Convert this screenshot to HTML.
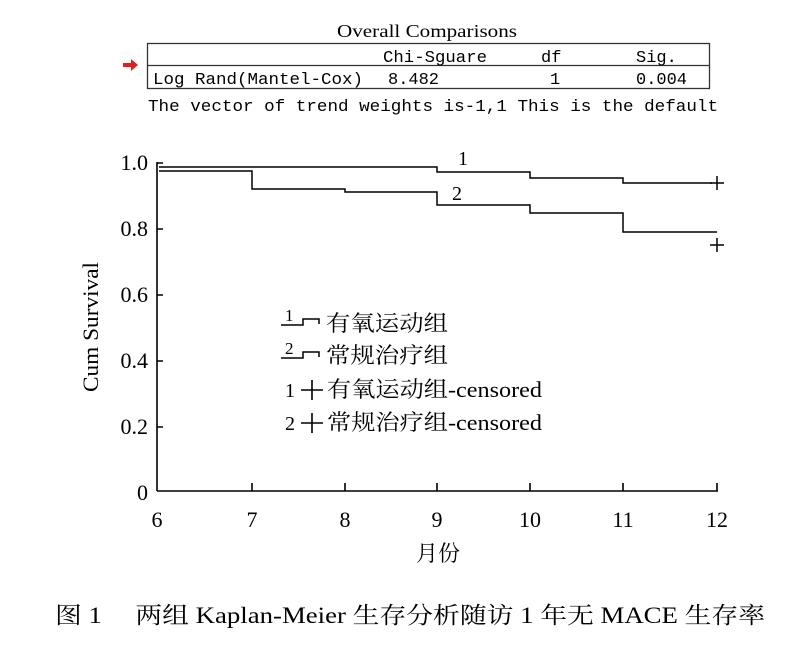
<!DOCTYPE html>
<html><head><meta charset="utf-8"><style>
body{margin:0;background:#fff;}
svg{display:block;}
text{fill:#000;}
</style></head><body>
<svg width="790" height="660" viewBox="0 0 790 660" xmlns="http://www.w3.org/2000/svg">
<text x="427" y="37" font-family="Liberation Serif, serif" font-size="18" text-anchor="middle" textLength="180" lengthAdjust="spacingAndGlyphs">Overall Comparisons</text>
<rect x="147.5" y="43.5" width="562" height="45" fill="none" stroke="#333" stroke-width="1.3"/>
<line x1="147" y1="65.5" x2="710" y2="65.5" stroke="#333" stroke-width="1.3"/>
<path d="M123 63 h8 v-4 l7 6 l-7 6 v-4 h-8z" fill="#e02020"/>
<g font-family="Liberation Mono, monospace" font-size="17">
<text x="383" y="62" textLength="104" lengthAdjust="spacingAndGlyphs">Chi-Sguare</text>
<text x="541" y="62">df</text>
<text x="636" y="62">Sig.</text>
<text x="153" y="84" textLength="210" lengthAdjust="spacingAndGlyphs">Log Rand(Mantel-Cox)</text>
<text x="388" y="84">8.482</text>
<text x="550" y="84">1</text>
<text x="636" y="84">0.004</text>
<text x="148" y="111" textLength="570" lengthAdjust="spacingAndGlyphs">The vector of trend weights is-1,1 This is the default</text>
</g>
<g stroke="#000" stroke-width="1.6" fill="none">
<line x1="157" y1="162" x2="157" y2="491"/>
<line x1="157" y1="491" x2="718" y2="491"/>
<path d="M157 163h6 M157 229h6 M157 295h6 M157 361h6 M157 427h6"/>
<path d="M252 491v-8 M345 491v-8 M437 491v-8 M530 491v-8 M623 491v-8 M717 491v-8"/>
</g>
<g stroke="#000" stroke-width="1.5" fill="none">
<path d="M159 167 H437 V172 H530 V178 H623 V183 H712"/>
<path d="M159 171 H252 V189 H345 V192 H437 V205 H530 V213 H623 V232 H717"/>
<path d="M710 183 h14 M717 176 v14 M710 245 h14 M717 238 v14"/>
</g>
<g font-family="Liberation Serif, serif" font-size="22">
<text x="148" y="170" text-anchor="end">1.0</text>
<text x="148" y="236" text-anchor="end">0.8</text>
<text x="148" y="302" text-anchor="end">0.6</text>
<text x="148" y="368" text-anchor="end">0.4</text>
<text x="148" y="434" text-anchor="end">0.2</text>
<text x="148" y="500" text-anchor="end">0</text>
<text x="157" y="527" text-anchor="middle">6</text>
<text x="252" y="527" text-anchor="middle">7</text>
<text x="345" y="527" text-anchor="middle">8</text>
<text x="437" y="527" text-anchor="middle">9</text>
<text x="530" y="527" text-anchor="middle">10</text>
<text x="623" y="527" text-anchor="middle">11</text>
<text x="717" y="527" text-anchor="middle">12</text>
<text x="458" y="165" font-size="20">1</text>
<text x="452" y="200" font-size="20">2</text>
<text transform="translate(98,327) rotate(-90)" text-anchor="middle" textLength="130" lengthAdjust="spacingAndGlyphs">Cum Survival</text>
</g>
<text x="438" y="561" font-family="Liberation Serif, Noto Serif CJK SC, serif" font-size="22" text-anchor="middle">月份</text>
<g font-family="Liberation Serif, Noto Serif CJK SC, serif" font-size="22">
<text x="285" y="321" font-size="17">1</text>
<text x="285" y="354" font-size="17">2</text>
<path d="M281 325h22v-6h16v5 M281 358h22v-6h16v5" stroke="#000" stroke-width="1.5" fill="none"/>
<text x="326" y="331" textLength="122" lengthAdjust="spacingAndGlyphs">有氧运动组</text>
<text x="326" y="363" textLength="122" lengthAdjust="spacingAndGlyphs">常规治疗组</text>
<text x="285" y="397" font-size="20">1</text>
<text x="285" y="430" font-size="20">2</text>
<path d="M301 390h22 M312 380v20 M301 423h22 M312 413v20" stroke="#000" stroke-width="1.6"/>
<text x="327" y="397" textLength="215" lengthAdjust="spacingAndGlyphs">有氧运动组-censored</text>
<text x="327" y="430" textLength="215" lengthAdjust="spacingAndGlyphs">常规治疗组-censored</text>
</g>
<text x="55" y="623" font-family="Liberation Serif, Noto Serif CJK SC, serif" font-size="23" textLength="710" lengthAdjust="spacingAndGlyphs">图 1　 两组 Kaplan-Meier 生存分析随访 1 年无 MACE 生存率</text>
</svg>
</body></html>
